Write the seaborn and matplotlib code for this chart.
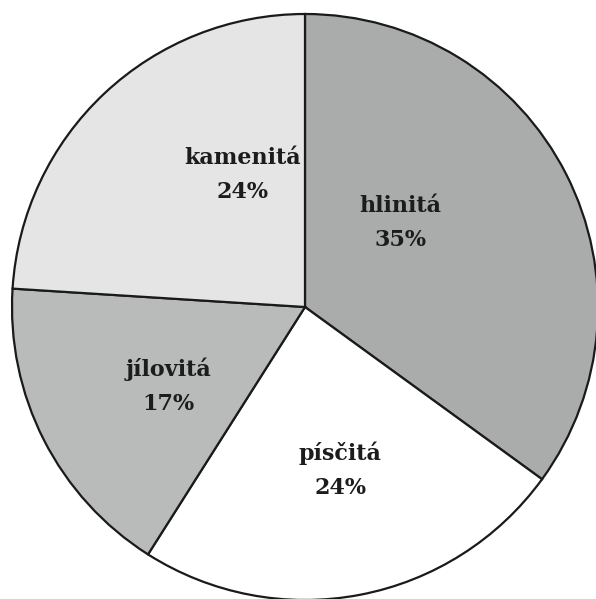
import matplotlib
matplotlib.use("Agg")
import matplotlib.pyplot as plt
import seaborn as sns

# Soil types and their shares (%)
categories = ["hlinitá", "písčitá", "jílovitá", "kamenitá"]
shares = [35, 24, 17, 24]
colors = ["#a9acaa", "#ffffff", "#b8bbb9", "#e4e5e4"]

sns.set_theme(style="white")
plt.rcParams["font.family"] = ["DejaVu Serif", "DejaVu Sans"]

W, H = 596, 599
fig = plt.figure(figsize=(W / 100, H / 100), dpi=100)
ax = fig.add_axes([0, 0, 1, 1])

cx, cy, r = 305, H - 307, 293
wedges, _ = ax.pie(
    shares, colors=colors, startangle=90, counterclock=False,
    center=(cx, cy), radius=r, frame=True,
    wedgeprops=dict(edgecolor="#1a1a1a", linewidth=1.6),
)
ax.set_xlim(0, W)
ax.set_ylim(0, H)
ax.set_aspect("equal")
ax.axis("off")

# Label anchor points (pixel coordinates from top-left)
label_pos = [(400, 223), (340, 470), (168, 386), (243, 175)]
for name, val, (x, y) in zip(categories, shares, label_pos):
    ax.text(x, H - y, f"{name}\n{val}%", ha="center", va="center",
            fontsize=16, fontweight="bold", color="#1c1c1c",
            linespacing=1.7)

fig.savefig("out.png", dpi=100)
